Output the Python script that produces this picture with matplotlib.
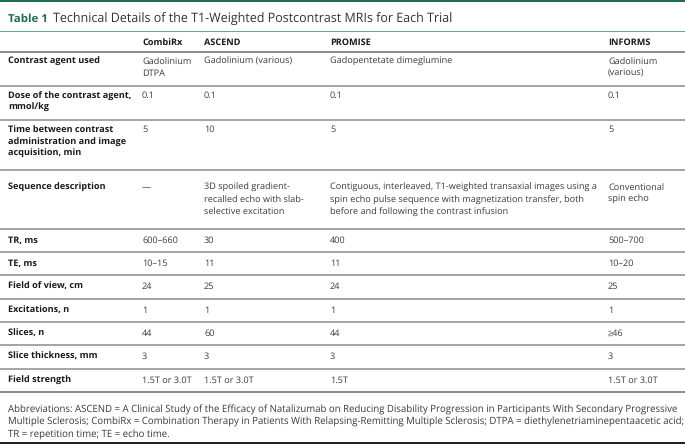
import matplotlib
matplotlib.use("Agg")
import matplotlib.pyplot as plt
from matplotlib.lines import Line2D

plt.rcParams['font.family'] = ['Open Sans', 'DejaVu Sans']
plt.rcParams['text.hinting'] = 'no_hinting'

W, H = 685, 445
title_num = "Table 1"
title_text = "Technical Details of the T1-Weighted Postcontrast MRIs for Each Trial"
columns = ["CombiRx", "ASCEND", "PROMISE", "INFORMS"]
row_labels = [
    "Contrast agent used",
    "Dose of the contrast agent,\nmmol/kg",
    "Time between contrast\nadministration and image\nacquisition, min",
    "Sequence description",
    "TR, ms",
    "TE, ms",
    "Field of view, cm",
    "Excitations, n",
    "Slices, n",
    "Slice thickness, mm",
    "Field strength",
]
combirx = ["Gadolinium\nDTPA", "0.1", "5", "\u2014", "600\u2013660", "10\u201315",
           "24", "1", "44", "3", "1.5T or 3.0T"]
ascend = ["Gadolinium (various)", "0.1", "10",
          "3D spoiled gradient-\nrecalled echo with slab-\nselective excitation",
          "30", "11", "25", "1", "60", "3", "1.5T or 3.0T"]
promise = ["Gadopentetate dimeglumine", "0.1", "5",
           "Contiguous, interleaved, T1-weighted transaxial images using a\n"
           "spin echo pulse sequence with magnetization transfer, both\n"
           "before and following the contrast infusion",
           "400", "11", "24", "1", "44", "3", "1.5T"]
informs = ["Gadolinium\n(various)", "0.1", "5", "Conventional\nspin echo",
           "500\u2013700", "10\u201320", "25", "1", "\u226546", "3", "1.5T or 3.0T"]
footnote = ("Abbreviations: ASCEND = A Clinical Study of the Efficacy of Natalizumab on Reducing Disability Progression in Participants With Secondary Progressive\n"
            "Multiple Sclerosis; CombiRx = Combination Therapy in Patients With Relapsing-Remitting Multiple Sclerosis; DTPA = diethylenetriaminepentaacetic acid;\n"
            "TR = repetition time; TE = echo time.")

fig = plt.figure(figsize=(W / 100, H / 100), dpi=100)
fig.patch.set_facecolor("white")
renderer = fig.canvas.get_renderer()


def fit_size(s, target_px, weight="normal", start=7.0):
    size = start
    for _ in range(4):
        t = fig.text(0, 0, s, fontsize=size, fontweight=weight)
        w = t.get_window_extent(renderer).width
        t.remove()
        size *= target_px / w
    return size


def fx(x):
    return x / W


def fy(y):
    return 1 - y / H


PX = 0.72  # points per pixel at dpi 100


def hline(y, color, lw_px, x0=0, x1=W):
    # snap to the pixel grid so thin rules stay crisp
    yc = round(y - lw_px / 2) + lw_px / 2
    fig.add_artist(Line2D([fx(x0), fx(x1)], [fy(yc), fy(yc)], color=color,
                          lw=lw_px * PX, antialiased=False,
                          transform=fig.transFigure, solid_capstyle="butt"))


GREEN = "#1f6e4a"
TXT = "#3a3a3a"
LAB = "#1a1a1a"
FS = fit_size(promise[3].split("\n")[0], 268)
FSB = fit_size(row_labels[1].split("\n")[0], 123, "bold")
FSN = fit_size(footnote.split("\n")[1], 669)
FST = fit_size(title_text, 402)
FSTB = fit_size(title_num, 40, "bold")
LS = 12  # line spacing in px

# top bar
hline(0, GREEN, 4)
# title
fig.text(fx(8), fy(19), title_num, color=GREEN, fontsize=FSTB, fontweight="bold", va="center")
fig.text(fx(53), fy(19), title_text, color="#333333", fontsize=FST, va="center")
hline(30, "#6aa985", 1)

col_x = [8, 142, 204, 330, 608]
# header
for cx, name in zip(col_x[1:], columns):
    fig.text(fx(cx), fy(43), name, fontsize=FSB, fontweight="bold", color=LAB, va="center")
hline(52, "#8c8c8c", 2)


def draw_cell(x, ytop, s, bold=False):
    for i, line in enumerate(s.split("\n")):
        fig.text(fx(x), fy(ytop + i * LS), line, fontsize=FSB if bold else FS,
                 fontweight="bold" if bold else "normal",
                 color=LAB if bold else TXT, va="center")


heights = [34, 34, 50, 58.3, 23.33, 23.33, 23.33, 23.33, 23.33, 23.33, 23.33]
offsets = [9.5, 10, 10, 18, None, None, None, None, None, None, None]
y = 52
for r in range(len(row_labels)):
    cells = [row_labels[r], combirx[r], ascend[r], promise[r], informs[r]]
    h = heights[r]
    off = offsets[r] if offsets[r] is not None else h / 2 + 0.3
    for j, c in enumerate(cells):
        draw_cell(col_x[j], y + off, c, bold=(j == 0))
    y += h
    last = r == len(row_labels) - 1
    hline(y, "#8c8c8c" if last else "#a6a6a6", 2 if last else 1.5)

# footnote
fy0 = y + 18.5
for i, line in enumerate(footnote.split("\n")):
    fig.text(fx(8), fy(fy0 + i * LS), line, fontsize=FSN, color=TXT, va="center")
hline(443, "#222222", 2)

fig.savefig("out.png", dpi=100, facecolor="white")
